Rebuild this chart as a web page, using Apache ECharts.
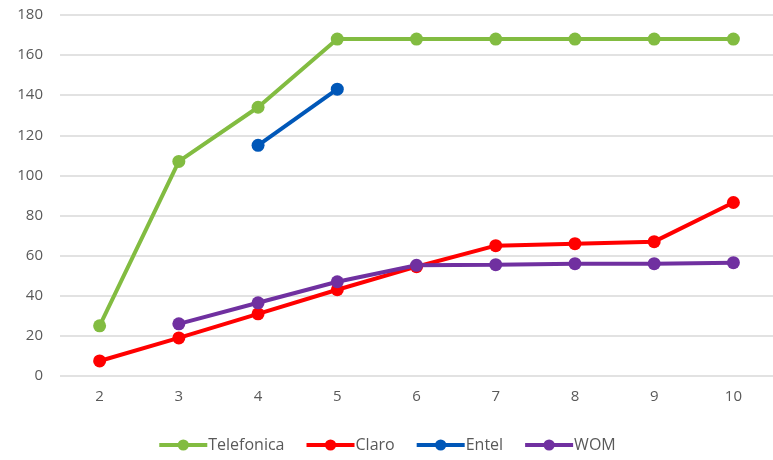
<!DOCTYPE html>
<html>
<head>
<meta charset="utf-8">
<script src="https://cdn.jsdelivr.net/npm/echarts@6/dist/echarts.min.js"></script>
<style>
  html, body { margin: 0; padding: 0; background: #fff; }
  #chart { width: 773px; height: 460px; }
</style>
</head>
<body>
<div id="chart"></div>
<script>
const categories = ['2', '3', '4', '5', '6', '7', '8', '9', '10'];
const telefonica = [25, 107, 134, 168, 168, 168, 168, 168, 168];
const claro = [7.5, 19, 31, 43, 54.5, 65, 66, 67, 86.5];
const entel = [null, null, 115, 143, null, null, null, null, null];
const wom = [null, 26, 36.5, 47, 55.2, 55.5, 56, 56, 56.5];

const labelFont = "'Open Sans', 'Liberation Sans', sans-serif";

function lineSeries(name, data, color) {
  return {
    name: name,
    type: 'line',
    data: data,
    symbol: 'circle',
    symbolSize: 13,
    showAllSymbol: true,
    lineStyle: { width: 4, color: color },
    itemStyle: { color: color },
    emphasis: { disabled: true }
  };
}

const chart = echarts.init(document.getElementById('chart'));
chart.setOption({
  animation: false,
  color: ['#82BC41', '#FF0000', '#0057B8', '#7030A0'],
  grid: { left: 60, right: -6, top: 15, bottom: 84 },
  legend: {
    bottom: 2,
    left: 'center',
    itemWidth: 48,
    itemHeight: 14,
    itemGap: 20,
    lineStyle: { width: 4 },
    textStyle: { color: '#595959', fontSize: 16, fontFamily: labelFont, padding: [0, 0, 0, -4] },
    data: ['Telefonica', 'Claro', 'Entel', 'WOM']
  },
  xAxis: {
    type: 'category',
    data: categories,
    boundaryGap: true,
    axisLine: { show: false },
    axisTick: { show: false },
    axisLabel: { color: '#595959', fontSize: 15, fontFamily: labelFont, margin: 13 }
  },
  yAxis: {
    type: 'value',
    min: 0,
    max: 180,
    interval: 20,
    axisLine: { show: false },
    axisTick: { show: false },
    splitLine: { lineStyle: { color: '#D9D9D9', width: 1.5 } },
    axisLabel: { color: '#595959', fontSize: 15, fontFamily: labelFont, margin: 17 }
  },
  series: [
    lineSeries('Telefonica', telefonica, '#82BC41'),
    lineSeries('Claro', claro, '#FF0000'),
    lineSeries('Entel', entel, '#0057B8'),
    lineSeries('WOM', wom, '#7030A0')
  ]
});
</script>
</body>
</html>
